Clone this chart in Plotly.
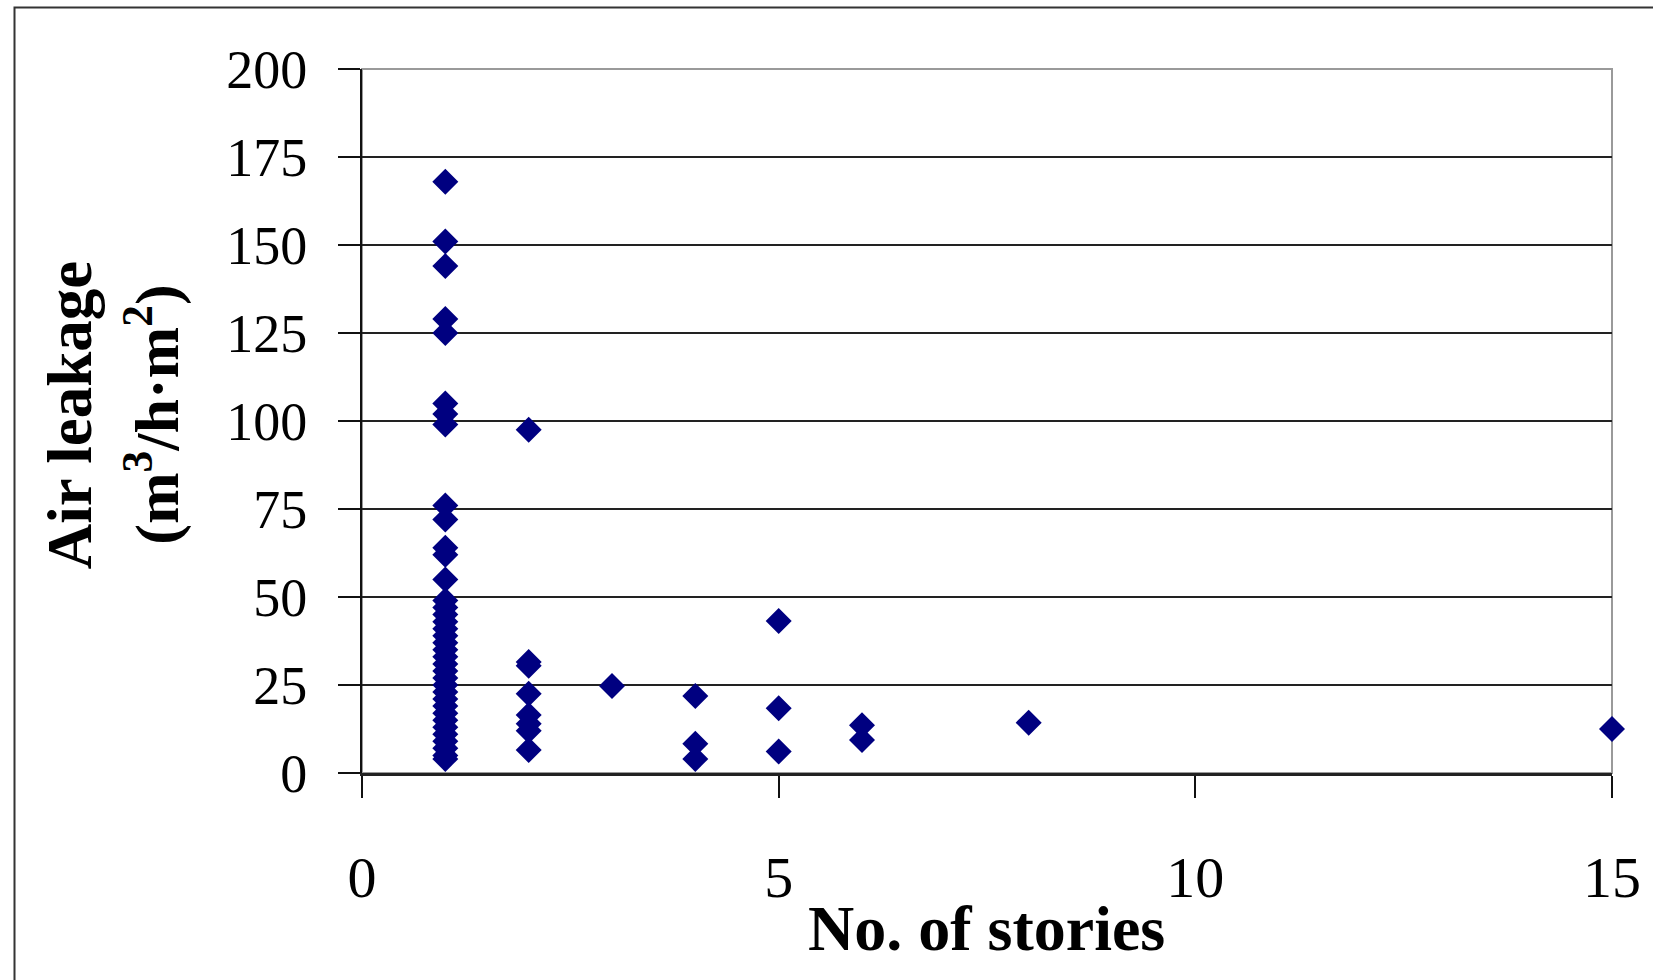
import plotly.graph_objects as go

# ---- data ----
stories_1 = [1] * 37
leak_1 = [168, 151, 144, 129, 125, 105, 102, 99, 76, 72, 64, 62, 55,
          49, 47, 45, 43, 41, 39, 37, 35, 33, 31, 29, 27, 25, 23, 21,
          19, 17, 15, 13, 11, 9, 7, 5, 4]
stories_other = [2, 2, 2, 2, 2, 2, 2, 2,
                 3,
                 4, 4, 4,
                 5, 5, 5,
                 6, 6,
                 8,
                 15]
leak_other = [97.5, 31.5, 30.5, 22.5, 16.5, 14, 12, 6.5,
              24.7,
              21.9, 8.3, 4,
              43.2, 18.4, 6.1,
              13.6, 9.4,
              14.3,
              12.5]

x_vals = stories_1 + stories_other
y_vals = leak_1 + leak_other

x_ticks = [0, 5, 10, 15]
y_ticks = [0, 25, 50, 75, 100, 125, 150, 175, 200]

# ---- layout geometry (pixels) ----
W, H = 1653, 980
L, R, T, B = 362, 1621, 68.5, 773

def px(xp):
    return (xp - L) / (R - L)

def py(yp):
    return (B - yp) / (B - T)

SERIF = "Liberation Serif, Times New Roman, serif"

fig = go.Figure()
fig.add_trace(go.Scatter(
    x=x_vals, y=y_vals, mode="markers",
    marker=dict(symbol="diamond", size=20, color="#000080",
                line=dict(width=0)),
    cliponaxis=False, showlegend=False, hoverinfo="x+y"))

fig.update_layout(
    width=W, height=H,
    margin=dict(l=L, r=W - R, t=T, b=H - B, pad=0),
    paper_bgcolor="white", plot_bgcolor="white",
    showlegend=False,
    xaxis=dict(range=[0, 15], tickvals=x_ticks, ticktext=[str(v) for v in x_ticks],
               showgrid=False, zeroline=False,
               showline=True, linecolor="#222", linewidth=3,
               ticks="outside", ticklen=22, tickwidth=2, tickcolor="#111",
               ticklabelstandoff=29,
               tickfont=dict(family=SERIF, size=58, color="black")),
    yaxis=dict(range=[0, 200], tickvals=y_ticks, ticktext=[str(v) for v in y_ticks],
               showgrid=True, gridcolor="#222", gridwidth=2,
               zeroline=False,
               showline=True, linecolor="#111", linewidth=2,
               ticks="outside", ticklen=22, tickwidth=2, tickcolor="#111",
               ticklabelstandoff=20,
               tickfont=dict(family=SERIF, size=54, color="black")),
    shapes=[
        # plot-area border (gray, Excel style)
        dict(type="rect", xref="paper", yref="paper", x0=0, x1=1, y0=0, y1=1,
             line=dict(color="#9a9a9a", width=2), layer="below"),
        # outer chart frame
        dict(type="rect", xref="paper", yref="paper",
             x0=px(12), x1=px(1700), y0=py(7), y1=py(1020),
             line=dict(color="#333", width=2), layer="below"),
    ],
    annotations=[
        dict(text="<b>No. of stories</b>", xref="paper", yref="paper",
             x=px(991), y=py(929), xanchor="center", yanchor="middle",
             showarrow=False, font=dict(family=SERIF, size=64, color="black")),
        dict(text="<b>Air leakage</b>", xref="paper", yref="paper",
             x=px(68), y=py(415), xanchor="center", yanchor="middle",
             textangle=-90, showarrow=False,
             font=dict(family=SERIF, size=63, color="black")),
        dict(text="<b>(m<sup>3</sup>/h·m<sup>2</sup>)</b>", xref="paper", yref="paper",
             x=px(151), y=py(415), xanchor="center", yanchor="middle",
             textangle=-90, showarrow=False,
             font=dict(family=SERIF, size=62, color="black")),
    ],
)

fig.write_html("out.html", config={"displayModeBar": False},
               post_script="document.body.style.margin='0';")
